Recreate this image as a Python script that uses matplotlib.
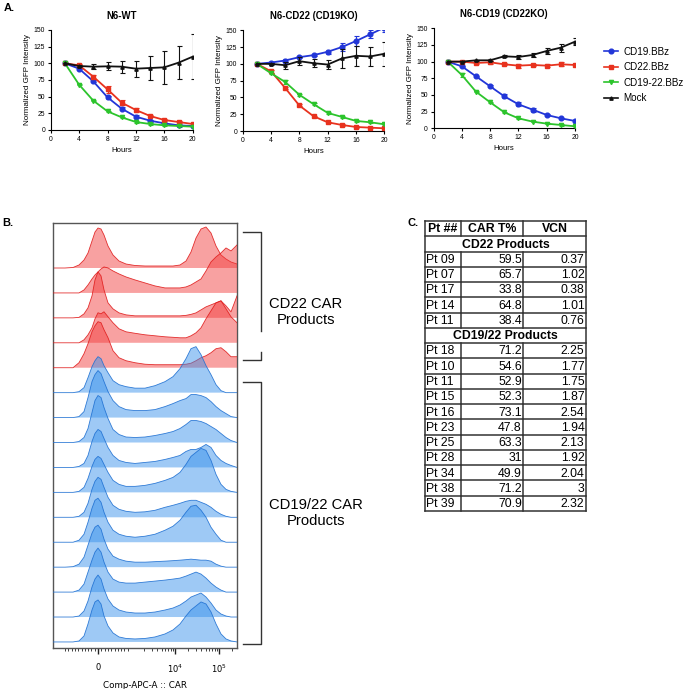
import numpy as np
import matplotlib
matplotlib.use("Agg")
import matplotlib.pyplot as plt
from matplotlib.lines import Line2D

plt.rcParams['font.family'] = ['Liberation Sans', 'DejaVu Sans']

W, H = 686, 689

# ---------------- panel A : killing curves ----------------
hours = [2, 4, 6, 8, 10, 12, 14, 16, 18, 20]
series_names = ["CD19.BBz", "CD22.BBz", "CD19-22.BBz", "Mock"]
panel_titles = ["N6-WT", "N6-CD22 (CD19KO)", "N6-CD19 (CD22KO)"]

wt_cd19 = [100, 92, 73, 49, 32, 20, 14, 10, 7, 6]
wt_cd19_err = [0, 1, 1.5, 2, 2, 2, 1.5, 1, 1, 1]
wt_cd22 = [100, 97, 80, 61, 41, 30, 21, 15, 12, 9]
wt_cd22_err = [0, 2, 3, 5, 4, 3, 2, 2, 1.5, 1.5]
wt_cd1922 = [100, 68, 44, 28, 19, 12, 9, 7, 6, 5]
wt_cd1922_err = [0, 1, 1, 1, 1, 1, 1, 1, 1, 1]
wt_mock = [100, 96, 95, 95.5, 95, 92, 93, 94, 101, 110]
wt_mock_err = [0, 2, 4, 6, 9, 12, 18, 25, 25, 34]

ko19_cd19 = [100, 102, 105, 110, 113, 118, 125, 134, 144, 154]
ko19_cd19_err = [0, 1, 2, 2, 2, 3, 6, 7, 6, 6]
ko19_cd22 = [100, 89, 64, 38, 22, 13, 9, 6, 5, 4]
ko19_cd22_err = [0, 2, 2, 1.5, 1, 1, 1, 1, 1, 1]
ko19_cd1922 = [100, 86, 73, 54, 40, 27, 21, 15, 13, 10]
ko19_cd1922_err = [0, 1, 3, 1.5, 1, 1, 1, 1, 1, 1]
ko19_mock = [100, 100, 98, 104, 101, 99, 108, 112, 111, 115]
ko19_mock_err = [0, 2, 5, 6, 6, 7, 14, 15, 14, 18]

ko22_cd19 = [100, 93, 78, 63, 48, 36, 28, 20, 15, 11]
ko22_cd19_err = [0, 1, 1, 1.5, 3, 3, 3, 1.5, 1, 1]
ko22_cd22 = [100, 100, 98, 99, 96, 94, 95, 94, 96, 95]
ko22_cd22_err = [0, 1, 2, 2, 1.5, 3, 2, 2, 3, 2]
ko22_cd1922 = [100, 80, 55, 39, 24, 15, 10, 7, 5, 3]
ko22_cd1922_err = [0, 3, 1, 1, 1, 1, 1, 1, 1, 1]
ko22_mock = [100, 100, 102, 102, 108, 107, 110, 116, 121, 130]
ko22_mock_err = [0, 1, 1, 1.5, 1.5, 3, 3, 4, 6, 5]

# ---------------- panel B : flow histograms ----------------
flow_x = [0, 12, 20, 26, 31, 35, 39, 42, 45, 48, 51, 55, 60, 66, 73, 82,
          92, 102, 112, 120, 127, 133, 138, 143, 148, 153, 158, 163, 168, 173, 178, 184]
cd22_hists = [
    [0, 0, 0.5, 3, 8, 15, 27, 36, 40, 39, 33, 22, 13, 7, 4, 2.5, 2, 2, 2, 2, 3, 7, 16, 30, 39, 41, 35, 22, 13, 9, 6, 4],
    [0, 0, 0, 0, 3, 8, 14, 18, 21, 24, 26, 25, 22, 19, 16, 13, 10, 7, 5, 5, 5, 6, 8, 11, 14, 22, 31, 36, 40, 45, 42, 48],
    [0, 0, 0, 0.5, 4, 10, 22, 38, 46, 42, 28, 15, 9, 5, 3, 2, 2, 2, 2, 2, 2, 2.5, 3.5, 5, 8, 11, 13, 15, 17, 12, 6, 22],
    [0, 0, 0, 0, 3, 8, 15, 24, 30, 29, 31, 26, 20, 14, 11, 9.5, 8, 7, 6, 5.5, 5, 5, 7, 10, 15, 24, 32, 40, 42, 34, 26, 20],
    [0, 0, 0, 5, 14, 24, 36, 42, 46, 45, 38, 30, 17, 10, 7, 5, 3.5, 3, 3, 3, 3, 3.5, 4.5, 7, 10, 12, 15, 19, 20, 16, 11, 11],
]
cd1922_hists = [
    [0, 0, 0, 1, 5, 15, 26, 32, 36, 34, 27, 20, 12, 8, 6, 4.5, 4.5, 7, 11, 16, 24, 34, 44, 46, 38, 27, 18, 8, 2, 0, 0, 0],
    [0, 0, 0, 1, 6, 20, 36, 43, 47, 44, 36, 26, 17, 11, 8, 7, 7, 8, 11, 14, 17, 19, 23, 23, 22, 20, 16, 11, 7, 4, 1, 0],
    [0, 0, 0, 1, 5, 14, 30, 42, 47, 45, 35, 24, 13, 8, 5.5, 5, 5.5, 7, 9, 11, 14, 18, 22, 22, 21, 19, 16, 13, 9, 5, 2, 0],
    [0, 0, 0, 1, 4, 12, 26, 34, 38, 36, 29, 20, 12, 7, 5, 4, 5, 6, 8, 10, 12, 16, 18, 18, 20, 23, 20, 12, 7, 4, 2, 0],
    [0, 0, 0, 1, 5, 14, 26, 33, 36, 34, 28, 20, 12, 8, 6, 6, 7, 9, 12, 15, 20, 28, 36, 40, 44, 42, 32, 18, 8, 3, 1, 0],
    [0, 0, 0, 1, 5, 14, 28, 36, 40, 38, 30, 20, 12, 8, 6, 5, 5.5, 7, 10, 12, 14, 16, 17, 17, 15, 13, 10, 6, 3, 1, 0, 0],
    [0, 0, 0, 2, 8, 20, 34, 42, 44, 40, 30, 20, 12, 8, 6, 5, 6, 8, 12, 16, 22, 30, 36, 37, 32, 25, 15, 8, 2, 0, 0, 0],
    [0, 0, 0.5, 3, 10, 22, 34, 40, 42, 38, 28, 18, 11, 8, 6, 5, 5, 5.5, 6, 6.5, 7, 7.5, 8, 7.5, 7, 7, 6, 3, 1, 0, 0, 0],
    [0, 0, 0, 2, 8, 20, 32, 40, 44, 40, 30, 20, 13, 10, 9, 9, 10, 11, 12, 13, 14, 16, 18, 20, 18, 14, 9, 5, 2, 0, 0, 0],
    [0, 0, 0, 1, 6, 16, 30, 38, 42, 38, 28, 18, 11, 7, 5, 4, 4, 5, 7, 9, 12, 16, 20, 22, 24, 20, 14, 7, 3, 1, 0, 0],
    [0, 0, 0, 1, 6, 18, 32, 40, 42, 38, 26, 16, 9, 5, 3.5, 3, 3.5, 5, 8, 12, 18, 26, 32, 36, 40, 38, 30, 18, 8, 3, 1, 0],
]

# ---------------- panel C : table ----------------
pt_cd22 = ["Pt 09", "Pt 07", "Pt 17", "Pt 14", "Pt 11"]
car_cd22 = [59.5, 65.7, 33.8, 64.8, 38.4]
vcn_cd22 = [0.37, 1.02, 0.38, 1.01, 0.76]
pt_cd1922 = ["Pt 18", "Pt 10", "Pt 11", "Pt 15", "Pt 16", "Pt 23",
             "Pt 25", "Pt 28", "Pt 34", "Pt 38", "Pt 39"]
car_cd1922 = [71.2, 54.6, 52.9, 52.3, 73.1, 47.8, 63.3, 31, 49.9, 71.2, 70.9]
vcn_cd1922 = [2.25, 1.77, 1.75, 1.87, 2.54, 1.94, 2.13, 1.92, 2.04, 3, 2.32]


def fx(x):
    return x / W


def fy(y):
    return 1 - y / H


fig = plt.figure(figsize=(W / 100, H / 100), dpi=100)

# ----- line charts -----
colors = ["#2236d8", "#e8321e", "#2cc42c", "#111111"]
markers = ["o", "s", "v", "^"]
msizes = [3.4, 3.4, 3.0, 2.4]
panels = [
    ([wt_cd19, wt_cd22, wt_cd1922, wt_mock],
     [wt_cd19_err, wt_cd22_err, wt_cd1922_err, wt_mock_err]),
    ([ko19_cd19, ko19_cd22, ko19_cd1922, ko19_mock],
     [ko19_cd19_err, ko19_cd22_err, ko19_cd1922_err, ko19_mock_err]),
    ([ko22_cd19, ko22_cd22, ko22_cd1922, ko22_mock],
     [ko22_cd19_err, ko22_cd22_err, ko22_cd1922_err, ko22_mock_err]),
]
boxes = [(50.7, 192.7, 30, 130), (242.7, 384.3, 30.3, 131), (433.5, 575, 28.3, 128.3)]

for k, (vals, errs) in enumerate(panels):
    x0, x1, y0, y1 = boxes[k]
    ax = fig.add_axes([fx(x0), fy(y1), (x1 - x0) / W, (y1 - y0) / H])
    for j in range(4):
        ax.errorbar(hours, vals[j], yerr=errs[j], color=colors[j], marker=markers[j],
                    ms=msizes[j], lw=1.3, capsize=1.8, elinewidth=0.8, capthick=0.8,
                    zorder=3 if j < 3 else 4)
    ax.set_xlim(0, 20)
    ax.set_ylim(0, 150)
    ax.set_xticks([0, 4, 8, 12, 16, 20])
    ax.set_yticks([0, 25, 50, 75, 100, 125, 150])
    for s in ["top", "right"]:
        ax.spines[s].set_visible(False)
    for s in ["left", "bottom"]:
        ax.spines[s].set_linewidth(0.8)
    ax.tick_params(labelsize=4.9, length=2.5, width=0.8, pad=1.5)
    ax.set_xlabel("Hours", fontsize=5.6, labelpad=3)
    ax.set_ylabel("Normalized GFP Intensity", fontsize=5.8, labelpad=2)
    ax.set_title(panel_titles[k], fontsize=6.9, fontweight="bold", pad=8)

handles = [Line2D([], [], color=colors[j], marker=markers[j], ms=msizes[j], lw=1.2)
           for j in range(4)]
fig.legend(handles, series_names, loc="upper left", bbox_to_anchor=(fx(600), fy(43)),
           frameon=False, fontsize=7.1, handlelength=1.4, handletextpad=0.6,
           labelspacing=0.55, borderaxespad=0)

# ----- flow histograms -----
axb = fig.add_axes([fx(53), fy(648), 184 / W, 425 / H])
red_fill, red_edge = "#f23c3c", "#e01c1c"
blue_fill, blue_edge = "#3590ec", "#1f70d2"
all_hists = [(h, red_fill, red_edge) for h in cd22_hists] + \
            [(h, blue_fill, blue_edge) for h in cd1922_hists]
for i, (h, fc, ec) in enumerate(all_hists):
    base = 380 - 24.93 * i
    top = base + np.array(h)
    axb.fill_between(flow_x, base, top, facecolor=fc, alpha=0.48, lw=0, zorder=2 + i)
    axb.plot(flow_x, top, color=ec, lw=0.6, alpha=0.9, zorder=2 + i)
axb.set_xlim(0, 184)
axb.set_ylim(0, 425)
axb.set_yticks([])
for s in axb.spines.values():
    s.set_color("#555555")
    s.set_linewidth(1.0)


def chan(v):
    # biexponential-like display position of a fluorescence value
    if abs(v) <= 1000:
        return 45 + 33 * v / 1000
    return 122 + 44 * np.log10(v / 1e4)


axb.set_xticks([chan(0), chan(1e4), chan(1e5)])
axb.set_xticklabels(["0", "$10^4$", "$10^5$"], fontsize=6, family="DejaVu Sans")
minor_vals = list(range(-1000, 1000, 100)) + list(range(2000, 10000, 1000)) + \
             list(range(20000, 100000, 10000)) + [200000]
axb.set_xticks([chan(v) for v in minor_vals], minor=True)
axb.tick_params(axis="x", which="major", length=4.5, width=1.0, pad=6, color="#222222")
axb.tick_params(axis="x", which="minor", length=2.5, width=0.6, color="#222222")
axb.set_xlabel("Comp-APC-A :: CAR", fontsize=6.3, family="DejaVu Sans", labelpad=4)

brackets = [
    [(243, 232), (261, 232), (261, 331)],
    [(261, 352), (261, 360), (243, 360)],
    [(243, 382), (261, 382), (261, 644), (243, 644)],
]
for pts in brackets:
    fig.add_artist(Line2D([fx(p[0]) for p in pts], [fy(p[1]) for p in pts],
                          color="#333333", lw=1.0))
fig.text(fx(306), fy(312), "CD22 CAR\nProducts", ha="center", va="center",
         fontsize=10.6, linespacing=1.1)
fig.text(fx(316), fy(513), "CD19/22 CAR\nProducts", ha="center", va="center",
         fontsize=10.6, linespacing=1.1)

# ----- table -----
axt = fig.add_axes([fx(425), fy(511), 161 / W, 290 / H])
axt.set_xlim(0, 161)
axt.set_ylim(19, 0)
axt.axis("off")
cols = [0, 35.7, 98.3, 161]
rows = [("head", None)] + [("sec", "CD22 Products")] + \
       [("val", (p, c, v)) for p, c, v in zip(pt_cd22, car_cd22, vcn_cd22)] + \
       [("sec", "CD19/22 Products")] + \
       [("val", (p, c, v)) for p, c, v in zip(pt_cd1922, car_cd1922, vcn_cd1922)]
lc = "#333333"
fs = 8.8
for r in range(len(rows) + 1):
    axt.plot([0, 161], [r, r], color=lc, lw=1.1, clip_on=False)
axt.plot([0, 0], [0, len(rows)], color=lc, lw=1.1, clip_on=False)
axt.plot([161, 161], [0, len(rows)], color=lc, lw=1.1, clip_on=False)
for r, (kind, content) in enumerate(rows):
    yc = r + 0.55
    if kind == "sec":
        axt.text(80.5, yc, content, ha="center", va="center", fontsize=fs, fontweight="bold")
        continue
    for cx in cols[1:3]:
        axt.plot([cx, cx], [r, r + 1], color=lc, lw=1.1, clip_on=False)
    if kind == "head":
        for c0, c1, t in zip(cols[:-1], cols[1:], ["Pt ##", "CAR T%", "VCN"]):
            axt.text((c0 + c1) / 2, yc, t, ha="center", va="center",
                     fontsize=fs, fontweight="bold")
    else:
        p, c, v = content
        axt.text(cols[0] + 1.5, yc, p, ha="left", va="center", fontsize=fs)
        axt.text(cols[2] - 1.5, yc, "{:g}".format(c), ha="right", va="center", fontsize=fs)
        axt.text(cols[3] - 1.5, yc, "{:g}".format(v), ha="right", va="center", fontsize=fs)

# panel letters
fig.text(fx(4), fy(8), "A.", fontsize=8, fontweight="bold", va="center")
fig.text(fx(2), fy(223), "B.", fontsize=8, fontweight="bold", va="center")
fig.text(fx(408), fy(223), "C.", fontsize=8, fontweight="bold", va="center")

fig.savefig("out.png", dpi=100)
